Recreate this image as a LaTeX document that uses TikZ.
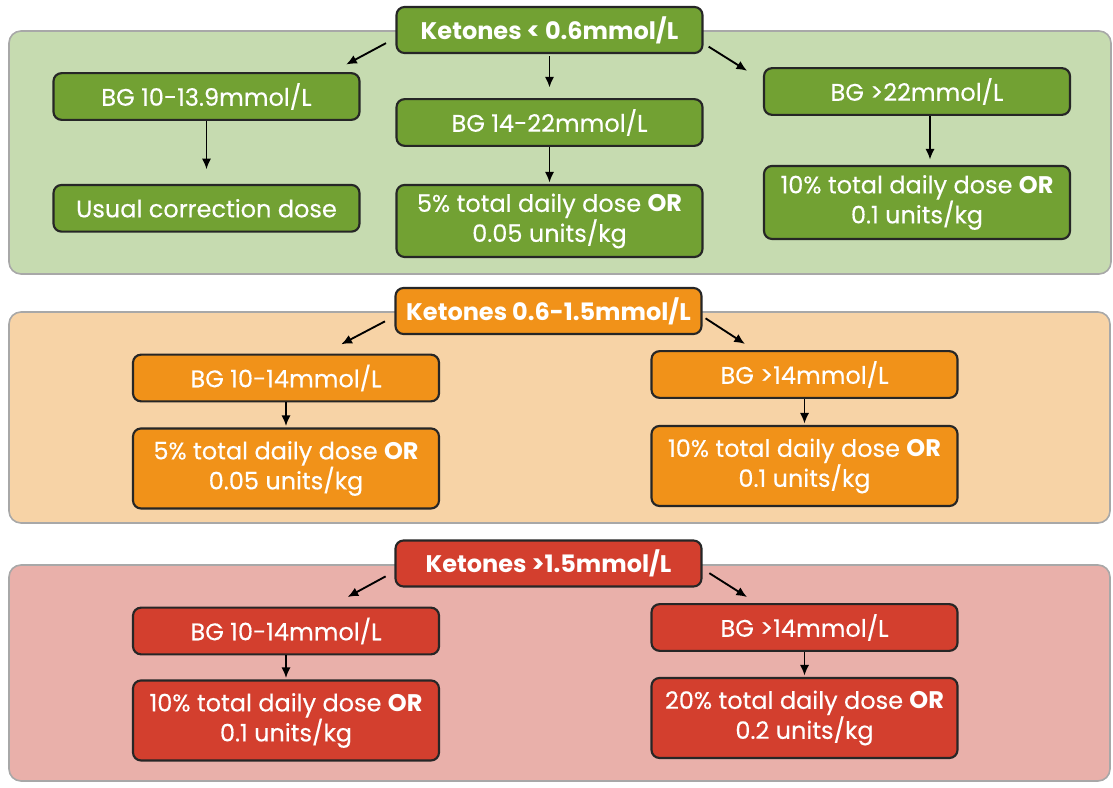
\documentclass[tikz,border=0pt]{standalone}
\usepackage{fontspec}
\setmainfont{Poppins}[UprightFeatures={FakeBold=0.3}]
\usetikzlibrary{arrows.meta, positioning}
\definecolor{greenbox}{HTML}{72A133}
\definecolor{greenpanel}{HTML}{C6DBB0}
\definecolor{orangebox}{HTML}{F19219}
\definecolor{orangepanel}{HTML}{F7D3A6}
\definecolor{redbox}{HTML}{D33F2E}
\definecolor{redpanel}{HTML}{E9B0AA}
\definecolor{boxline}{HTML}{262626}
\definecolor{panelline}{HTML}{A8A8A8}
\tikzset{>={Latex[length=8pt,width=7pt]},
    panel/.style={draw=panelline, line width=1.2pt, rounded corners=9pt},
    box/.style={rectangle, draw=boxline, line width=1.6pt, rounded corners=6pt,
        text=white, align=center, inner sep=0pt,
        minimum width=229.5pt, minimum height=35pt,
        font=\fontsize{18}{22.5}\selectfont},
    ketone/.style={box, minimum height=34.5pt,
        font=\fontsize{18}{22.5}\selectfont\bfseries},
    twoline/.style={box, minimum height=60pt},
    link/.style={->, line width=1.4pt, black}}

\begin{document}
\begin{tikzpicture}[x=0.75pt, y=-0.75pt]
\useasboundingbox (0,0) rectangle (1113,788);
% background panels
\filldraw[panel, fill=greenpanel]  (9,31)  rectangle (1111,274);
\filldraw[panel, fill=orangepanel] (9,312) rectangle (1110,523);
\filldraw[panel, fill=redpanel]    (9,565) rectangle (1110,781);

% ketones < 0.6
\node[ketone, fill=greenbox] (k1) at (549.5,30) {Ketones < 0.6mmol/L};
\node[box, fill=greenbox] (bg1a) at (206.5,96.5) {BG 10-13.9mmol/L};
\node[box, fill=greenbox] (bg1b) at (549.5,122.5) {BG 14-22mmol/L};
\node[box, fill=greenbox] (bg1c) at (917,91.5) {BG >22mmol/L};
\node[box, fill=greenbox] (d1a) [below=47.25pt of bg1a] {Usual correction dose};
\node[twoline, fill=greenbox, minimum height=54pt] (d1b) [below=27.75pt of bg1b]
    {5\% total daily dose \textbf{OR}\\0.05 units/kg};
\node[twoline, fill=greenbox, minimum height=54.75pt] (d1c) [below=36.75pt of bg1c]
    {10\% total daily dose \textbf{OR}\\0.1 units/kg};
\path[link]
    (k1.183)  edge[shorten <=8pt, shorten >=12pt] (bg1a.11)
    (k1.south) edge[shorten <=1.5pt, shorten >=8pt] (bg1b.north)
    (k1.355.6) edge[shorten <=4.5pt, shorten >=14pt] (bg1c.176)
    (bg1a.south) edge[shorten >=11pt] (d1a.north)
    (bg1b.south) edge[shorten >=1pt] (d1b.north);
\draw[link, shorten >=4pt] ([xshift=9.75pt]bg1c.south) -- ([xshift=9.75pt]d1c.north);

% ketones 0.6-1.5
\node[ketone, fill=orangebox] (k2) at (548.5,311) {Ketones 0.6-1.5mmol/L};
\node[box, fill=orangebox] (bg2a) at (286,378) {BG 10-14mmol/L};
\node[box, fill=orangebox] (bg2b) at (804.5,374.5) {BG >14mmol/L};
\node[twoline, fill=orangebox] (d2a) [below=18.75pt of bg2a]
    {5\% total daily dose \textbf{OR}\\0.05 units/kg};
\node[twoline, fill=orangebox] (d2b) [below=19.5pt of bg2b]
    {10\% total daily dose \textbf{OR}\\0.1 units/kg};
\path[link]
    (k2.182) edge[shorten <=8pt, shorten >=15pt] (bg2a.33)
    (k2.358) edge[shorten <=2.7pt, shorten >=8.5pt] (bg2b.154)
    (bg2a.south) edge[shorten >=1pt] (d2a.north)
    (bg2b.south) edge[shorten >=1pt] (d2b.north);

% ketones > 1.5
\node[ketone, fill=redbox] (k3) at (548.5,563.5) {Ketones >1.5mmol/L};
\node[box, fill=redbox] (bg3a) at (286,631) {BG 10-14mmol/L};
\node[box, fill=redbox] (bg3b) at (804.5,627.5) {BG >14mmol/L};
\node[twoline, fill=redbox] (d3a) [below=18pt of bg3a]
    {10\% total daily dose \textbf{OR}\\0.1 units/kg};
\node[twoline, fill=redbox] (d3b) [below=18.75pt of bg3b]
    {20\% total daily dose \textbf{OR}\\0.2 units/kg};
\path[link]
    (k3.183) edge[shorten <=7.5pt, shorten >=15pt] (bg3a.29.5)
    (k3.358.5) edge[shorten <=6pt, shorten >=8.5pt] (bg3b.153)
    (bg3a.south) edge[shorten >=1pt] (d3a.north)
    (bg3b.south) edge[shorten >=1pt] (d3b.north);
\end{tikzpicture}
\end{document}
